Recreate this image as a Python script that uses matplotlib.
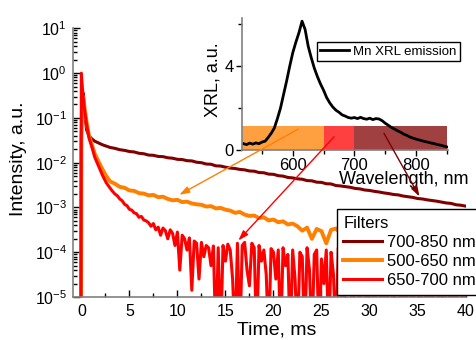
import numpy as np
import matplotlib
matplotlib.use("Agg")
import matplotlib.pyplot as plt
from matplotlib.patches import ConnectionPatch
from matplotlib.ticker import MultipleLocator, FixedLocator, LogLocator, NullFormatter

plt.rcParams["font.family"] = ["Liberation Sans", "DejaVu Sans"]
plt.rcParams["mathtext.default"] = "regular"

# ── data ─────────────────────────────────────────────────────────────────────
# decay curves, log10(intensity); samples below 1e-5 are clipped by the axis
early_t = [-1.0, -0.05, 0.0, 0.1, 0.2, 0.35, 0.55, 0.8, 1.1, 1.4, 1.8, 2.2, 2.6, 3.0]
time_ms = np.concatenate([early_t, np.arange(3.5, 40.01, 0.5)])
red_time = np.concatenate([early_t, np.arange(3.25, 40.01, 0.25)])

dark_lg = [
    -7, -7, -1.5, -0.5, -0.45, -0.9, -1.27, -1.40, -1.47, -1.52, -1.56, -1.60, -1.63, -1.66,
    -1.68, -1.71, -1.725, -1.75, -1.76, -1.79, -1.80, -1.83,
    -1.835, -1.86, -1.865, -1.89, -1.90, -1.925, -1.93, -1.955,
    -1.96, -1.99, -2.00, -2.03, -2.035, -2.07, -2.075, -2.10,
    -2.12, -2.13, -2.15, -2.16, -2.185, -2.19, -2.22, -2.225,
    -2.255, -2.26, -2.29, -2.30, -2.33, -2.34, -2.36, -2.37,
    -2.40, -2.405, -2.435, -2.44, -2.47, -2.475, -2.51, -2.52,
    -2.535, -2.55, -2.575, -2.585, -2.61, -2.62, -2.64, -2.655,
    -2.675, -2.69, -2.71, -2.72, -2.745, -2.76, -2.775, -2.80,
    -2.81, -2.83, -2.845, -2.86, -2.88, -2.90, -2.91, -2.94,
    -2.95, -2.97,
]

orange_lg = [
    -7, -7, -1.5, -0.5, -0.55, -0.8, -1.1, -1.4, -1.6, -1.8, -1.98, -2.15, -2.3, -2.42,
    -2.47, -2.54, -2.56, -2.62, -2.63, -2.68, -2.69, -2.73,
    -2.72, -2.77, -2.76, -2.81, -2.84, -2.83, -2.88, -2.87,
    -2.91, -2.93, -2.94, -2.98, -2.97, -3.02, -3.01, -3.05,
    -3.07, -3.12, -3.10, -3.16, -3.19, -3.18, -3.24, -3.22,
    -3.29, -3.27, -3.33, -3.31, -3.38, -3.36, -3.42, -3.52,
    -3.45, -3.70, -3.48, -3.53, -3.80, -3.50, -3.47, -3.58,
    -3.55, -3.62, -3.58, -3.66, -3.60, -3.70, -3.64, -3.68,
    -3.72, -3.66, -3.75, -3.70, -3.78, -3.72, -3.80, -3.74,
    -3.82, -3.76, -3.85, -3.78, -3.84, -3.80, -3.88, -3.82,
    -3.86, -3.90,
]

red_lg = [
    -7, -7, 0.0, -0.3, -0.55, -0.85, -1.15, -1.45, -1.65, -1.88, -2.08, -2.28, -2.45, -2.57,
    -2.64, -2.70, -2.74, -2.81, -2.85, -2.93, -2.96, -3.04,
    -3.06, -3.12, -3.14, -3.22, -3.20, -3.28, -3.30, -3.34,
    -3.42, -3.36, -3.50, -3.44, -3.62, -3.46, -3.52, -3.70,
    -3.50, -3.58, -3.85, -3.55, -4.40, -3.62, -3.70, -3.95,
    -3.68, -4.85, -3.75, -3.80, -4.60, -3.78, -4.10, -3.85,
    -3.90, -4.30, -3.86, -6.0, -3.90, -6.0, -3.85, -4.20,
    -3.82, -3.95, -4.60, -6.0, -3.80, -6.0, -3.85, -3.78,
    -4.40, -4.75, -3.80, -3.90, -6.0, -3.85, -4.20, -3.95,
    -4.50, -6.0, -3.92, -4.00, -4.60, -3.95, -6.0, -3.90,
    -4.30, -4.05, -6.0, -3.95, -4.60, -6.0, -4.00, -4.10,
    -6.0, -3.90, -4.40, -6.0, -4.05, -3.95, -6.0, -4.15,
    -4.70, -3.95, -6.0, -4.00, -4.50, -6.0, -3.90, -4.20,
    -6.0, -4.00, -4.80, -3.95, -6.0, -4.10, -4.00, -6.0,
    -4.05, -4.60, -6.0, -3.95, -4.30, -6.0, -4.10, -4.00,
    -6.0, -4.20, -6.0, -3.95, -4.50, -6.0, -4.05, -4.15,
    -6.0, -4.00, -6.0, -4.10, -4.70, -6.0, -3.95, -4.20,
    -6.0, -4.05, -4.40, -6.0, -4.00, -6.0, -4.15, -4.05,
    -6.0, -4.30, -6.0, -4.00, -4.60, -6.0, -4.10, -6.0,
    -4.05, -4.25, -6.0, -4.10,
]

# inset: Mn XRL emission spectrum
wl_nm = np.arange(520, 851, 5)
xrl = [
    0.30, 0.26, 0.33, 0.28, 0.34, 0.30, 0.38, 0.42, 0.60, 0.80,
    1.05, 1.50, 2.00, 2.65, 3.30, 4.00, 4.65, 5.15, 5.60, 6.15,
    5.75, 4.95, 4.40, 3.90, 3.50, 3.15, 2.85, 2.50, 2.25, 2.05,
    1.90, 1.80, 1.68, 1.62, 1.55, 1.52, 1.55, 1.50, 1.56, 1.50,
    1.47, 1.52, 1.45, 1.50, 1.48, 1.40, 1.28, 1.18, 1.08, 1.00,
    0.92, 0.85, 0.76, 0.70, 0.62, 0.57, 0.52, 0.48, 0.44, 0.40,
    0.37, 0.33, 0.30, 0.26, 0.23, 0.19, 0.15,
]

# filter bands (nm)
filter_lo = [500, 650, 700]
filter_hi = [650, 700, 850]

C_DARK, C_ORANGE, C_RED = "#800000", "#FF8000", "#FF0000"
BAND_COLORS = [C_ORANGE, C_RED, C_DARK]
BAND_TOP = 1.15

# arrows: (start in inset data, tip in main data, colour)
ARROWS = [
    ((609, 1.0), (10.2, 1.92e-3), C_ORANGE),
    ((667, 0.63), (16.35, 1.83e-4), C_RED),
    ((748, 0.80), (35.2, 1.76e-3), C_DARK),
]

SPINE = "#808080"

fig = plt.figure(figsize=(4.77, 3.40), dpi=100)

# ── main decay plot ──────────────────────────────────────────────────────────
ax = fig.add_axes([0.152, 0.1265, 0.824, 0.79])
ax.plot(time_ms, 10.0 ** np.array(dark_lg), color=C_DARK, lw=2.2, label="700-850 nm")
ax.plot(time_ms, 10.0 ** np.array(orange_lg), color=C_ORANGE, lw=2.8, label="500-650 nm")
ax.plot(red_time, 10.0 ** np.array(red_lg), color=C_RED, lw=2.2, label="650-700 nm")

ax.set_yscale("log")
ax.set_ylim(1e-5, 10)
ax.set_xlim(-0.92, 40.0)
ax.xaxis.set_major_locator(MultipleLocator(5))
ax.xaxis.set_minor_locator(MultipleLocator(2.5))
ax.yaxis.set_major_locator(FixedLocator([1e-5, 1e-4, 1e-3, 1e-2, 1e-1, 1e0, 1e1]))
ax.yaxis.set_minor_locator(LogLocator(base=10, subs=np.arange(2, 10), numticks=20))
ax.yaxis.set_minor_formatter(NullFormatter())
ax.tick_params(which="both", direction="in", labelsize=11.5, width=1)
ax.tick_params(which="major", length=5)
ax.tick_params(which="minor", length=3)
ax.tick_params(axis="x", pad=5)
ax.tick_params(axis="y", pad=4)
for s in ("top", "right"):
    ax.spines[s].set_visible(False)
for s in ("left", "bottom"):
    ax.spines[s].set_color(SPINE)
    ax.spines[s].set_linewidth(1.2)

ax.set_xlabel("Time, ms", fontsize=14)
ax.xaxis.set_label_coords(0.519, -0.092)
ax.set_ylabel("Intensity, a.u.", fontsize=14)
ax.yaxis.set_label_coords(-0.116, 0.516)

leg = ax.legend(loc="upper left", bbox_to_anchor=(0.672, 0.327), borderaxespad=0,
                title="Filters", fontsize=12, title_fontsize=12, alignment="left",
                handlelength=2.3, handletextpad=0.3, labelspacing=0.25,
                borderpad=0.4, fancybox=False, framealpha=1, edgecolor="black")
leg.get_frame().set_linewidth(1.0)

# ── inset XRL spectrum ───────────────────────────────────────────────────────
ax_in = fig.add_axes([0.5067, 0.5588, 0.4325, 0.3882])
ax_in.patch.set_alpha(0)
ax_in.plot(wl_nm, xrl, color="black", lw=2.0, label="Mn XRL emission")
for lo, hi, c in zip(filter_lo, filter_hi, BAND_COLORS):
    ax_in.bar(lo, BAND_TOP, width=hi - lo, align="edge", color=c, alpha=0.75, lw=0)

ax_in.set_xlim(517, 852)
ax_in.set_ylim(0, 6.3)
ax_in.xaxis.set_major_locator(FixedLocator([600, 700, 800]))
ax_in.xaxis.set_minor_locator(FixedLocator([550, 650, 750, 850]))
ax_in.yaxis.set_major_locator(FixedLocator([0, 4]))
ax_in.yaxis.set_minor_locator(FixedLocator([2, 6]))
ax_in.tick_params(which="both", direction="out", width=1, length=4)
ax_in.tick_params(which="minor", length=3)
ax_in.tick_params(axis="x", labelsize=12, pad=1.5)
ax_in.tick_params(axis="y", labelsize=12, pad=1.5)
for s in ("top", "right"):
    ax_in.spines[s].set_visible(False)
for s in ("left", "bottom"):
    ax_in.spines[s].set_color(SPINE)
    ax_in.spines[s].set_linewidth(1.2)

ax_in.set_xlabel("Wavelength, nm", fontsize=13)
ax_in.xaxis.set_label_coords(0.785, -0.16)
ax_in.set_ylabel("XRL, a.u.", fontsize=13)
ax_in.yaxis.set_label_coords(-0.10, 0.534)

leg_in = ax_in.legend(loc="upper left", bbox_to_anchor=(0.365, 0.818), borderaxespad=0,
                      fontsize=9.5, handlelength=2.2, handletextpad=0.3, borderpad=0.25,
                      fancybox=False, framealpha=1, edgecolor="black")
leg_in.get_frame().set_linewidth(1.0)

# ── arrows linking filter bands to decay curves ──────────────────────────────
for start, tip, c in ARROWS:
    con = ConnectionPatch(xyA=start, coordsA=ax_in.transData,
                          xyB=tip, coordsB=ax.transData,
                          arrowstyle="-|>,head_length=0.6,head_width=0.2",
                          mutation_scale=10, color=c, lw=1.0)
    fig.add_artist(con)

fig.savefig("out.png", dpi=100)
